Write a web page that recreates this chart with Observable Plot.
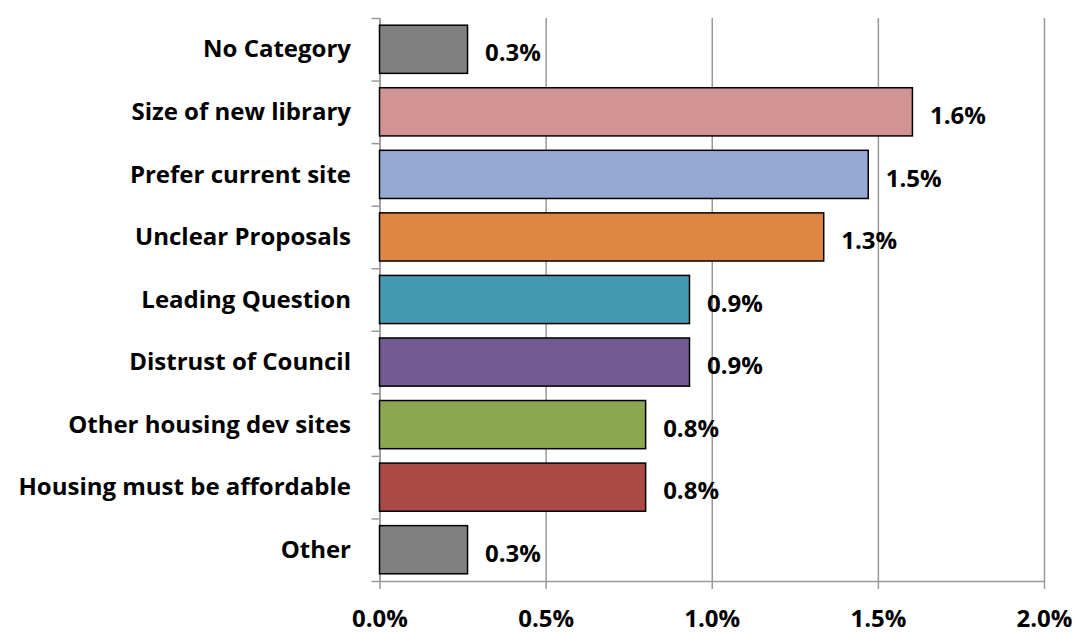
<!DOCTYPE html>
<html><head><meta charset="utf-8">
<script src="https://cdn.jsdelivr.net/npm/d3@7"></script>
<script src="https://cdn.jsdelivr.net/npm/@observablehq/plot@0.6"></script>
<style>body{margin:0;background:#fff}</style>
</head><body><div id="chart"></div>
<script>
const categories = ["No Category","Size of new library","Prefer current site","Unclear Proposals","Leading Question","Distrust of Council","Other housing dev sites","Housing must be affordable","Other"];
const values = [0.265, 1.604, 1.471, 1.337, 0.933, 0.933, 0.801, 0.801, 0.265];
const colors = ["#808080","#D29393","#95AAD3","#DE8643","#4399B0","#725A92","#8BA750","#AA4846","#808080"];
const xTicks = [0, 0.5, 1, 1.5, 2];

const data = categories.map((c, i) => ({category: c, value: values[i], color: colors[i], i}));
const pad = 0.115;
const axisGray = "#999";

const chart = Plot.plot({
  width: 1076, height: 632,
  marginLeft: 379.5, marginRight: 32, marginTop: 18, marginBottom: 51,
  style: {fontFamily: "'Open Sans', sans-serif", fontSize: "24px", fontWeight: "bold", color: "#000", background: "#fff"},
  x: {domain: [0, 2]},
  y: {domain: [0, 9], reverse: true},
  color: {type: "identity"},
  marks: [
    Plot.gridX(xTicks, {stroke: axisGray, strokeOpacity: 1, strokeWidth: 1.5}),
    Plot.ruleX([0], {stroke: axisGray, strokeWidth: 1.5}),
    Plot.ruleY([9], {x1: 0, x2: 2, stroke: axisGray, strokeWidth: 1.5}),
    Plot.axisX(xTicks, {tickSize: 8, tickPadding: 20, tickFormat: d => d.toFixed(1) + "%", stroke: axisGray, strokeWidth: 1.5, label: null}),
    Plot.axisY(d3.range(10), {tickSize: 8, tickFormat: () => "", stroke: axisGray, strokeWidth: 1.5, label: null}),
    Plot.rect(data, {x1: 0, x2: "value", y1: d => d.i + pad, y2: d => d.i + 1 - pad, fill: "color", stroke: "#000", strokeWidth: 1.5}),
    Plot.text(data, {x: 0, y: d => d.i + 0.5, text: "category", textAnchor: "end", dx: -29}),
    Plot.text(data, {x: "value", y: d => d.i + 0.5, text: d => d.value.toFixed(1) + "%", textAnchor: "start", dx: 17, dy: 4})
  ]
});
document.getElementById("chart").append(chart);
</script>
</body></html>
